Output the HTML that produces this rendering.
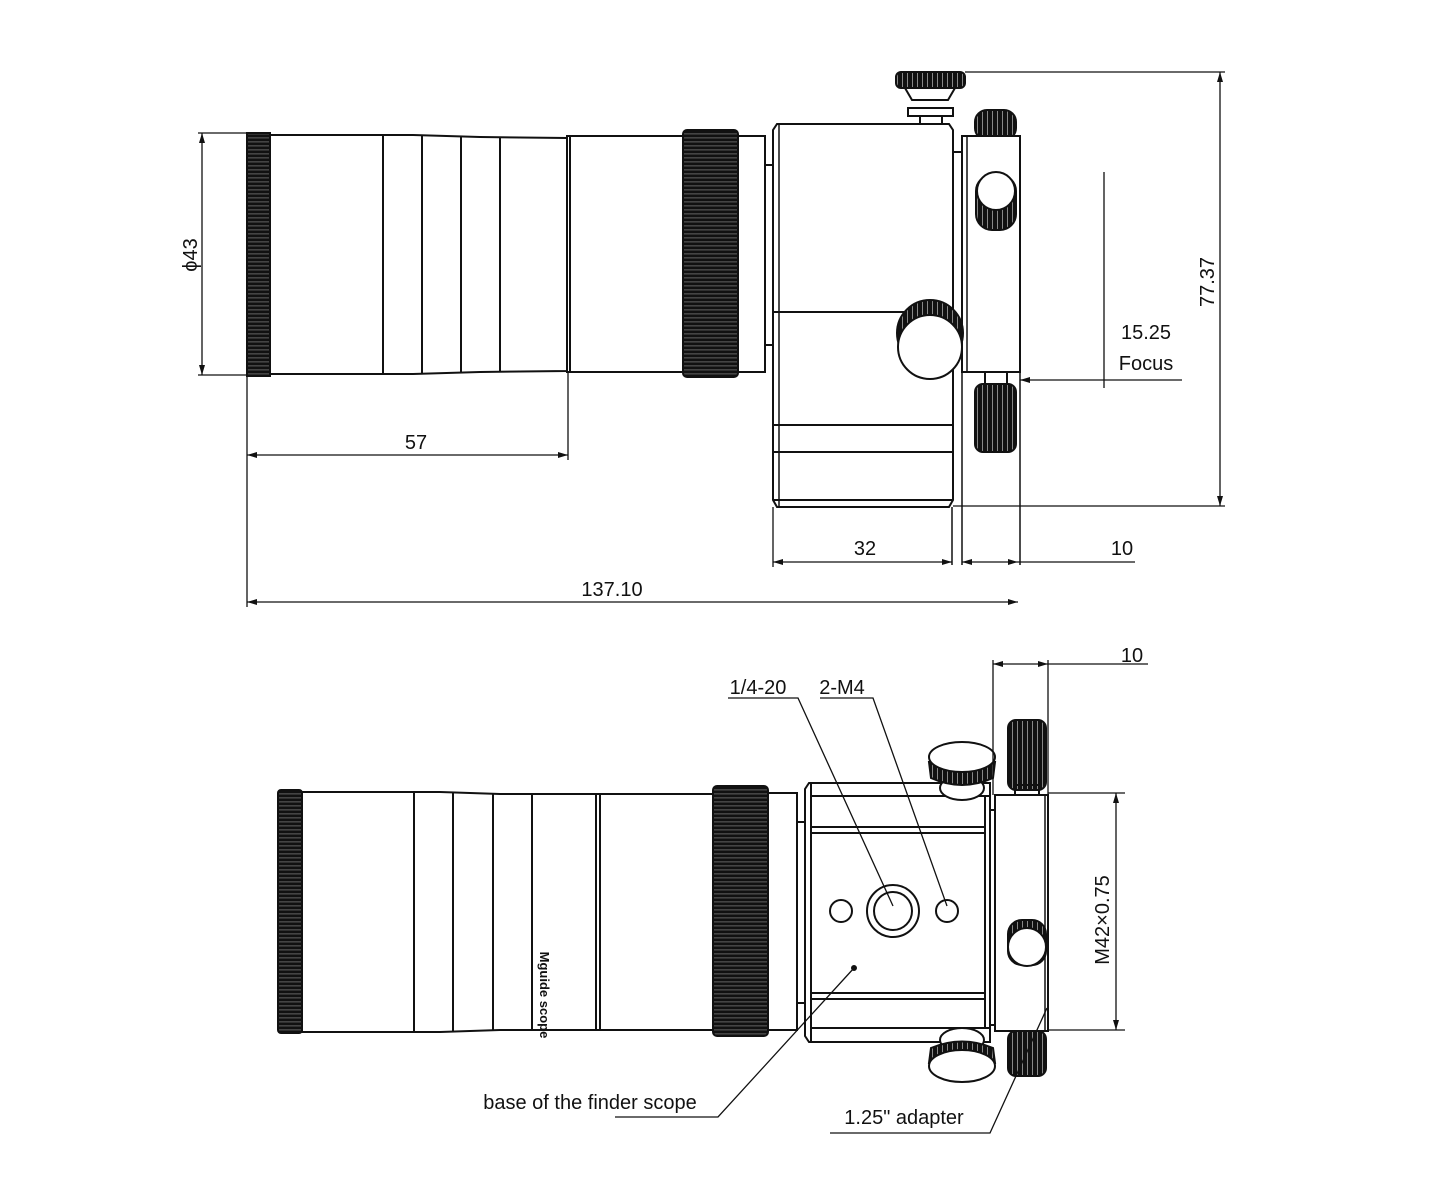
<!DOCTYPE html>
<html><head><meta charset="utf-8"><style>
html,body{margin:0;padding:0;background:#fff;}
svg{display:block;}
text{font-family:"Liberation Sans","DejaVu Sans",sans-serif;font-size:20px;fill:#111;}
</style></head><body>
<svg width="1440" height="1200" viewBox="0 0 1440 1200" xmlns="http://www.w3.org/2000/svg">
<defs>
<pattern id="kh" width="4" height="4" patternUnits="userSpaceOnUse"><rect width="4" height="4" fill="#111"/><rect y="1.5" width="4" height="0.8" fill="#777"/></pattern>
<pattern id="kv" width="5" height="5" patternUnits="userSpaceOnUse"><rect width="5" height="5" fill="#111"/><rect x="2" width="1" height="5" fill="#888"/></pattern>
<marker id="ar" markerWidth="10" markerHeight="6" refX="10" refY="3" orient="auto-start-reverse" markerUnits="userSpaceOnUse"><path d="M0,0 L10,3 L0,6z" fill="#111"/></marker>
</defs>
<g stroke="#111" stroke-width="2" fill="none">
<!-- TOP VIEW -->
<rect x="247" y="133" width="23" height="243" fill="url(#kh)"/>
<path d="M270,135 L413,135 L480,137 L567,138 L567,371 L480,372 L413,374 L270,374 Z" fill="#fff"/>
<line x1="383" y1="135" x2="383" y2="374"/><line x1="422" y1="135" x2="422" y2="374"/>
<line x1="461" y1="136" x2="461" y2="373"/><line x1="500" y1="137" x2="500" y2="372"/>
<rect x="567" y="136" width="3" height="236"/>
<rect x="570" y="136" width="113" height="236" fill="#fff"/>
<rect x="683" y="130" width="55" height="247" rx="4" fill="url(#kh)"/>
<rect x="738" y="136" width="27" height="236" fill="#fff"/>
<rect x="765" y="165" width="8" height="180"/>
<path d="M777,124 L949,124 L953,130 L953,500 L949,507 L777,507 L773,500 L773,130 Z" fill="#fff"/>
<line x1="779" y1="124" x2="779" y2="507" stroke-width="1.5"/>
<line x1="773" y1="312" x2="953" y2="312"/>
<line x1="773" y1="425" x2="953" y2="425"/>
<line x1="773" y1="452" x2="953" y2="452"/>
<line x1="773" y1="500" x2="953" y2="500"/>
<rect x="896" y="72" width="69" height="16" rx="5" fill="url(#kv)"/>
<path d="M905,88 L955,88 L948,100 L912,100 Z"/>
<rect x="908" y="108" width="45" height="8"/><rect x="920" y="116" width="22" height="8"/>
<rect x="953" y="152" width="9" height="190"/>
<rect x="975" y="110" width="41" height="30" rx="12" fill="url(#kv)"/>
<rect x="962" y="136" width="58" height="236" fill="#fff"/>
<line x1="967" y1="136" x2="967" y2="372" stroke-width="1.5"/>
<rect x="976" y="175" width="40" height="55" rx="16" fill="url(#kv)"/>
<circle cx="996" cy="191" r="19" fill="#fff"/>
<rect x="985" y="372" width="22" height="14"/>
<rect x="975" y="384" width="41" height="68" rx="8" fill="url(#kv)"/>
<circle cx="930" cy="333" r="33" fill="url(#kv)"/>
<circle cx="930" cy="347" r="32" fill="#fff"/>
<line x1="952" y1="507" x2="952" y2="565" stroke-width="1.5"/>
<line x1="962" y1="372" x2="962" y2="565" stroke-width="1.5"/>
<line x1="1020" y1="372" x2="1020" y2="565" stroke-width="1.5"/>
<!-- dims top -->
<g stroke-width="1.3">
<line x1="198" y1="133" x2="247" y2="133"/><line x1="198" y1="375" x2="247" y2="375"/>
<line x1="202" y1="133" x2="202" y2="375" marker-start="url(#ar)" marker-end="url(#ar)"/>
<line x1="247" y1="376" x2="247" y2="607"/><line x1="568" y1="372" x2="568" y2="460"/>
<line x1="247" y1="455" x2="568" y2="455" marker-start="url(#ar)" marker-end="url(#ar)"/>
<line x1="247" y1="602" x2="1018" y2="602" marker-start="url(#ar)" marker-end="url(#ar)"/>
<line x1="773" y1="507" x2="773" y2="567"/>
<line x1="773" y1="562" x2="952" y2="562" marker-start="url(#ar)" marker-end="url(#ar)"/>
<line x1="962" y1="562" x2="1018" y2="562" marker-start="url(#ar)" marker-end="url(#ar)"/>
<line x1="1018" y1="562" x2="1135" y2="562"/>
<line x1="965" y1="72" x2="1225" y2="72"/><line x1="953" y1="506" x2="1225" y2="506"/>
<line x1="1220" y1="72" x2="1220" y2="506" marker-start="url(#ar)" marker-end="url(#ar)"/>
<line x1="1104" y1="172" x2="1104" y2="388"/>
<line x1="1020" y1="380" x2="1104" y2="380" marker-start="url(#ar)"/>
<line x1="1104" y1="380" x2="1182" y2="380"/>
</g>
<!-- BOTTOM VIEW -->
<rect x="278" y="790" width="24" height="243" rx="3" fill="url(#kh)"/>
<path d="M302,792 L440,792 L500,794 L596,794 L596,1030 L500,1030 L440,1032 L302,1032 Z" fill="#fff"/>
<line x1="414" y1="792" x2="414" y2="1032"/><line x1="453" y1="792" x2="453" y2="1032"/>
<line x1="493" y1="793" x2="493" y2="1031"/><line x1="532" y1="794" x2="532" y2="1030"/>
<rect x="596" y="794" width="4" height="236"/>
<rect x="600" y="794" width="113" height="236" fill="#fff"/>
<rect x="713" y="786" width="55" height="250" rx="4" fill="url(#kh)"/>
<rect x="768" y="793" width="29" height="237" fill="#fff"/>
<rect x="797" y="822" width="8" height="181"/>
<path d="M809,783 L990,783 L990,1042 L809,1042 L805,1036 L805,789 Z" fill="#fff"/>
<line x1="811" y1="783" x2="811" y2="1042"/>
<line x1="811" y1="796" x2="990" y2="796"/>
<line x1="811" y1="827" x2="985" y2="827"/><line x1="811" y1="833" x2="985" y2="833"/>
<line x1="811" y1="993" x2="985" y2="993"/><line x1="811" y1="999" x2="985" y2="999"/>
<line x1="811" y1="1028" x2="990" y2="1028"/>
<line x1="985" y1="796" x2="985" y2="1028"/>
<circle cx="841" cy="911" r="11"/><circle cx="893" cy="911" r="26"/><circle cx="893" cy="911" r="19"/><circle cx="947" cy="911" r="11"/>
<circle cx="854" cy="968" r="2" fill="#111"/>
<rect x="990" y="810" width="5" height="215"/>
<ellipse cx="962" cy="788" rx="22" ry="12" fill="#fff"/>
<path d="M929,762 L995,762 L993,778 Q962,792 931,778 Z" fill="url(#kv)"/>
<ellipse cx="962" cy="757" rx="33" ry="15" fill="#fff"/>
<ellipse cx="962" cy="1040" rx="22" ry="12" fill="#fff"/>
<path d="M929,1063 L995,1063 L993,1048 Q962,1035 931,1048 Z" fill="url(#kv)"/>
<ellipse cx="962" cy="1066" rx="33" ry="16" fill="#fff"/>
<rect x="1008" y="720" width="38" height="70" rx="8" fill="url(#kv)"/>
<rect x="1015" y="785" width="24" height="10"/>
<rect x="995" y="795" width="53" height="236" fill="#fff"/>
<line x1="1045" y1="795" x2="1045" y2="1031" stroke-width="1.5"/>
<rect x="1008" y="920" width="38" height="45" rx="14" fill="url(#kv)"/>
<circle cx="1027" cy="947" r="19" fill="#fff"/>
<rect x="1008" y="1031" width="38" height="45" rx="8" fill="url(#kv)"/>
<!-- leaders/dims bottom -->
<g stroke-width="1.3">
<polyline points="728,698 798,698 893,906"/>
<polyline points="820,698 873,698 947,906"/>
<polyline points="615,1117 718,1117 854,968"/>
<polyline points="830,1133 990,1133 1047,1008"/>
<line x1="993" y1="660" x2="993" y2="795"/><line x1="1048" y1="660" x2="1048" y2="795"/>
<line x1="993" y1="664" x2="1048" y2="664" marker-start="url(#ar)" marker-end="url(#ar)"/>
<line x1="1048" y1="664" x2="1148" y2="664"/>
<line x1="1048" y1="793" x2="1125" y2="793"/><line x1="1048" y1="1030" x2="1125" y2="1030"/>
<line x1="1116" y1="793" x2="1116" y2="1030" marker-start="url(#ar)" marker-end="url(#ar)"/>
</g>
</g>
<text x="190" y="255" text-anchor="middle" transform="rotate(-90 190 255)" dy="7">ϕ43</text>
<text x="416" y="449" text-anchor="middle">57</text>
<text x="612" y="596" text-anchor="middle">137.10</text>
<text x="865" y="555" text-anchor="middle">32</text>
<text x="1122" y="555" text-anchor="middle">10</text>
<text x="1207" y="282" text-anchor="middle" transform="rotate(-90 1207 282)" dy="7">77.37</text>
<text x="1146" y="339" text-anchor="middle">15.25</text>
<text x="1146" y="370" text-anchor="middle">Focus</text>
<text x="758" y="694" text-anchor="middle">1/4-20</text>
<text x="842" y="694" text-anchor="middle">2-M4</text>
<text x="1132" y="662" text-anchor="middle">10</text>
<text x="1102" y="920" text-anchor="middle" transform="rotate(-90 1102 920)" dy="7">M42×0.75</text>
<text x="590" y="1109" text-anchor="middle">base of the finder scope</text>
<text x="904" y="1124" text-anchor="middle">1.25" adapter</text>
<text x="545" y="995" text-anchor="middle" transform="rotate(90 545 995)" dy="5" style="font-size:13px;font-weight:bold">Mguide scope</text>
</svg>
</body></html>
